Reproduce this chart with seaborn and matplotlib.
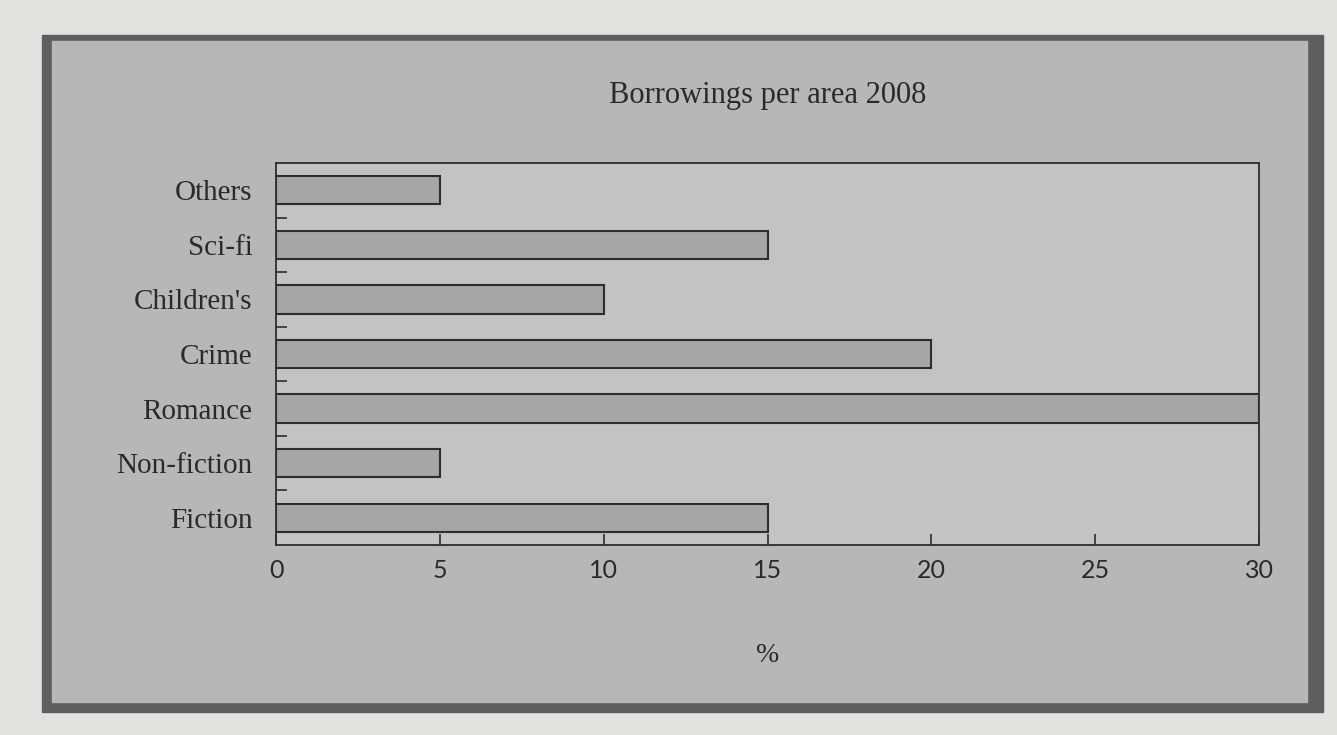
import matplotlib.pyplot as plt
import pandas as pd
import seaborn as sns
from matplotlib.patches import Rectangle
from matplotlib.ticker import FixedLocator

# data (top to bottom)
areas = ['Others', 'Sci-fi', "Children's", 'Crime', 'Romance', 'Non-fiction', 'Fiction']
share_pct = [5, 15, 10, 20, 30, 5, 15]
x_ticks = [0, 5, 10, 15, 20, 25, 30]

df = pd.DataFrame({'area': areas, 'pct': share_pct})

sns.set_theme(style='white')
plt.rcParams['font.family'] = ['Liberation Serif', 'DejaVu Serif']

W, H = 1337, 735
fig = plt.figure(figsize=(W / 100, H / 100), dpi=100, facecolor='#e2e2e0')

# scanned page frame: dark border + grey panel (kept behind the axes)
fig.patches.append(Rectangle((42 / W, 1 - 712 / H), (1323 - 42) / W, (712 - 35) / H,
                             transform=fig.transFigure, color='#5e5e5e', zorder=-10))
fig.patches.append(Rectangle((52 / W, 1 - 702 / H), (1307 - 52) / W, (702 - 41) / H,
                             transform=fig.transFigure, color='#b7b7b7', zorder=-9))

ax = fig.add_axes([276 / W, 1 - 545 / H, (1259 - 276) / W, (545 - 163) / H], zorder=5)
ax.set_facecolor('#c3c3c3')

sns.barplot(data=df, x='pct', y='area', orient='h', color='#a6a6a6', saturation=1,
            edgecolor='#2e2e2e', linewidth=1.5, width=0.52, ax=ax)

ax.set_xlim(0, 30)
ax.set_ylim(6.5, -0.5)
ax.set_xticks(x_ticks)
ax.set_xticklabels([str(t) for t in x_ticks], family=['Lato', 'DejaVu Sans'],
                   fontsize=18, color='#2a2a2a')
ax.tick_params(axis='x', direction='in', length=8, width=1.2, color='#2e2e2e', pad=10,
               bottom=True)
ax.tick_params(axis='y', which='major', length=0, pad=17, labelsize=21, labelcolor='#2a2a2a')
ax.yaxis.set_minor_locator(FixedLocator([0.5, 1.5, 2.5, 3.5, 4.5, 5.5]))
ax.tick_params(axis='y', which='minor', direction='in', length=8, width=1.2,
               color='#2e2e2e', left=True)

for s in ax.spines.values():
    s.set_color('#2e2e2e')
    s.set_linewidth(1.3)

ax.set_ylabel('')
ax.set_xlabel('%', fontsize=20, color='#2a2a2a', labelpad=44)
fig.text(768 / W, 1 - 95 / H, 'Borrowings per area 2008', ha='center', va='center',
         fontsize=22, color='#2a2a2a')

fig.savefig('out.png', dpi=100, facecolor=fig.get_facecolor())
